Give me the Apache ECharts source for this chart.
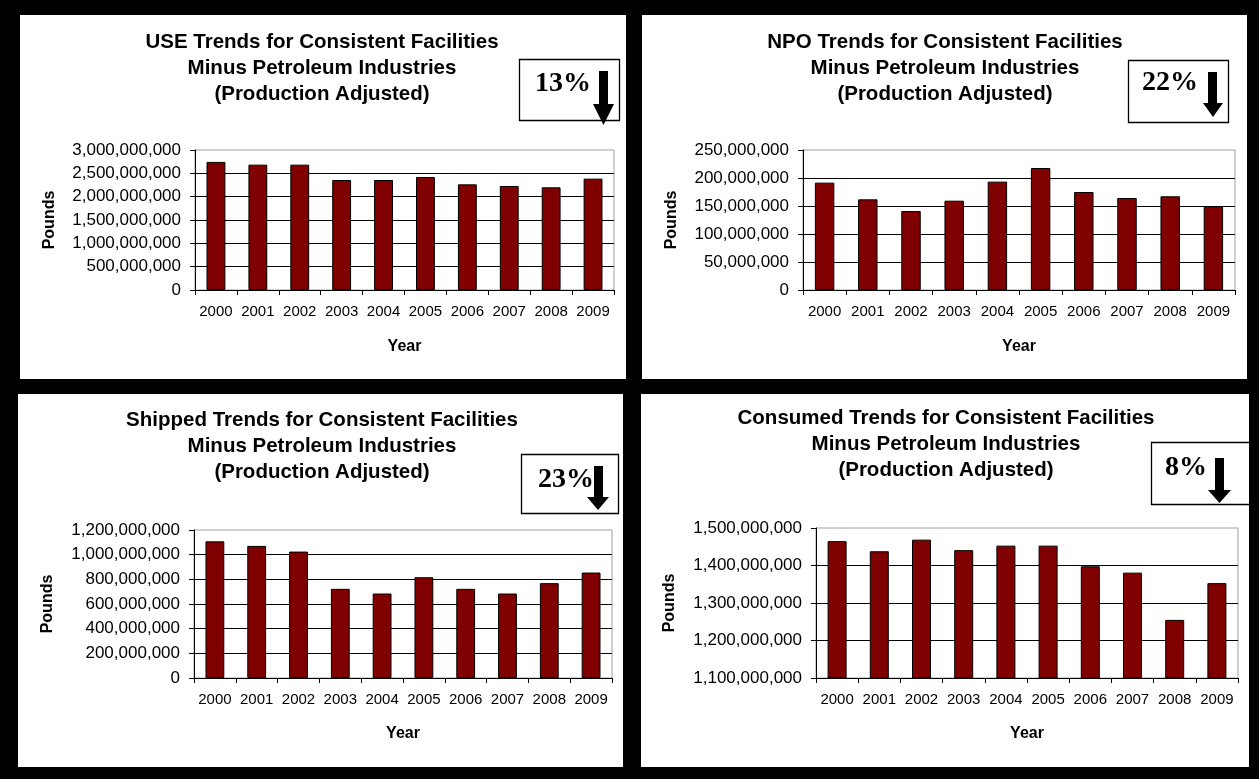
<!DOCTYPE html>
<html>
<head>
<meta charset="utf-8">
<script src="https://cdn.jsdelivr.net/npm/echarts@6/dist/echarts.min.js"></script>
<style>
  html, body { margin: 0; padding: 0; background: #000; }
  #chart { width: 1259px; height: 779px; }
</style>
</head>
<body>
<div id="chart"></div>
<script>
// Reporting years shared by all four charts
const years = ['2000', '2001', '2002', '2003', '2004', '2005', '2006', '2007', '2008', '2009'];

// Pounds per year, production adjusted
const useValues      = [2745e6, 2686e6, 2686e6, 2357e6, 2357e6, 2421e6, 2264e6, 2229e6, 2200e6, 2386e6];
const npoValues      = [191.7e6, 161.9e6, 141e6, 159.5e6, 193.5e6, 217.9e6, 175e6, 164.3e6, 167.3e6, 148.8e6];
const shippedValues  = [1108e6, 1071e6, 1025e6, 723e6, 685e6, 817e6, 723e6, 685e6, 769e6, 855e6];
const consumedValues = [1465e6, 1438e6, 1469e6, 1441e6, 1453e6, 1453e6, 1398e6, 1381e6, 1255e6, 1353e6];

// Chart titles
const chartTitles = [
  'USE Trends for Consistent Facilities\nMinus Petroleum Industries\n(Production Adjusted)',
  'NPO Trends for Consistent Facilities\nMinus Petroleum Industries\n(Production Adjusted)',
  'Shipped Trends for Consistent Facilities\nMinus Petroleum Industries\n(Production Adjusted)',
  'Consumed Trends for Consistent Facilities\nMinus Petroleum Industries\n(Production Adjusted)'
];

// Overall decrease 2000 -> 2009
const changeLabels = ['13%', '22%', '23%', '8%'];

// Value axis ranges: [min, max, interval]
const axisRanges = [
  [0, 3000000000, 500000000],
  [0, 250000000, 50000000],
  [0, 1200000000, 200000000],
  [1100000000, 1500000000, 100000000]
];

const seriesValues = [useValues, npoValues, shippedValues, consumedValues];

// Layout of the four quadrants
const layout = [
  { panel: [20, 15, 606, 364],  grid: [195, 150, 419, 140], titleX: 322, titleY: 29,  poundsGap: 137, yearGap: 49,
    box: [519, 59, 100, 61],  textX: 535,  textY: 83.5, arrow: { x0: 599, x1: 608, top: 71, hx0: 593, hx1: 614, head: 104, tip: 125 } },
  { panel: [642, 15, 605, 364], grid: [803, 150, 432, 140], titleX: 945, titleY: 29,  poundsGap: 123, yearGap: 49,
    box: [1128, 60, 100, 62], textX: 1142, textY: 82.5, arrow: { x0: 1208, x1: 1217, top: 72, hx0: 1203, hx1: 1223, head: 103, tip: 117 } },
  { panel: [18, 394, 605, 373], grid: [194, 530, 418, 148], titleX: 322, titleY: 407, poundsGap: 138, yearGap: 48,
    box: [521, 454, 97, 59],  textX: 538,  textY: 479.5, arrow: { x0: 594, x1: 603, top: 466, hx0: 587, hx1: 609, head: 497, tip: 510 } },
  { panel: [641, 394, 608, 373], grid: [816, 528, 422, 150], titleX: 946, titleY: 405, poundsGap: 138, yearGap: 48,
    box: [1151, 442, 105, 62], textX: 1165, textY: 467.5, arrow: { x0: 1215, x1: 1224, top: 458, hx0: 1208, hx1: 1231, head: 490, tip: 503 } }
];

const SANS = '"Liberation Sans", Arial, sans-serif';
const SERIF = '"Liberation Serif", "Times New Roman", serif';

function withCommas(v) {
  return String(Math.round(v)).replace(/\B(?=(\d{3})+(?!\d))/g, ',');
}

const grids = [], xAxes = [], yAxes = [], series = [], graphics = [];

layout.forEach((L, i) => {
  const [min, max, step] = axisRanges[i];

  grids.push({
    left: L.grid[0], top: L.grid[1], width: L.grid[2], height: L.grid[3],
    show: true, borderColor: '#a0a0a0', borderWidth: 1, backgroundColor: 'transparent'
  });

  xAxes.push({
    gridIndex: i, type: 'category', data: years,
    axisLine: { show: true, lineStyle: { color: '#000', width: 1 } },
    axisTick: { show: true, length: 5, lineStyle: { color: '#000' } },
    axisLabel: { interval: 0, color: '#000', fontFamily: SANS, fontSize: 15, margin: 14 },
    splitLine: { show: false },
    name: 'Year', nameLocation: 'middle', nameGap: L.yearGap,
    nameTextStyle: { color: '#000', fontFamily: SANS, fontWeight: 'bold', fontSize: 16 }
  });

  yAxes.push({
    gridIndex: i, type: 'value', min: min, max: max, interval: step,
    axisLine: { show: true, lineStyle: { color: '#000', width: 1 } },
    axisTick: { show: true, length: 5, lineStyle: { color: '#000' } },
    axisLabel: { color: '#000', fontFamily: SANS, fontSize: 17, margin: 14, formatter: withCommas },
    splitLine: { show: true, showMaxLine: false, lineStyle: { color: '#000', width: 1 } },
    name: 'Pounds', nameLocation: 'middle', nameGap: L.poundsGap, nameRotate: 90,
    nameTextStyle: { color: '#000', fontFamily: SANS, fontWeight: 'bold', fontSize: 16 }
  });

  series.push({
    type: 'bar', xAxisIndex: i, yAxisIndex: i, data: seriesValues[i],
    barWidth: '45%',
    itemStyle: { color: '#800000', borderColor: '#000', borderWidth: 1 },
    silent: true, animation: false
  });

  // white quadrant
  graphics.push({
    type: 'rect', z: -10, silent: true,
    shape: { x: L.panel[0], y: L.panel[1], width: L.panel[2], height: L.panel[3] },
    style: { fill: '#fff' }
  });

  // three-line title
  graphics.push({
    type: 'text', z: 10, silent: true,
    style: {
      text: chartTitles[i], x: L.titleX, y: L.titleY,
      align: 'center', verticalAlign: 'top',
      font: 'bold 20.5px ' + SANS, lineHeight: 26, fill: '#000'
    }
  });

  // change callout box
  graphics.push({
    type: 'rect', z: 10, silent: true,
    shape: { x: L.box[0] + 0.5, y: L.box[1] + 0.5, width: L.box[2], height: L.box[3] },
    style: { fill: '#fff', stroke: '#000', lineWidth: 1.3 }
  });
  graphics.push({
    type: 'text', z: 11, silent: true,
    style: {
      text: changeLabels[i], x: L.textX, y: L.textY,
      align: 'left', verticalAlign: 'middle',
      font: 'bold 28px ' + SERIF, fill: '#000'
    }
  });
  const a = L.arrow;
  const mid = (a.hx0 + a.hx1) / 2;
  graphics.push({
    type: 'polygon', z: 11, silent: true,
    shape: {
      points: [
        [a.x0, a.top], [a.x1, a.top], [a.x1, a.head], [a.hx1, a.head],
        [mid, a.tip], [a.hx0, a.head], [a.x0, a.head]
      ]
    },
    style: { fill: '#000' }
  });
});

// frame edge over the last callout box
graphics.push({
  type: 'rect', z: 20, silent: true,
  shape: { x: 1249, y: 380, width: 10, height: 399 },
  style: { fill: '#000' }
});

const chart = echarts.init(document.getElementById('chart'), null, { renderer: 'canvas' });
chart.setOption({
  backgroundColor: '#000',
  animation: false,
  grid: grids,
  xAxis: xAxes,
  yAxis: yAxes,
  series: series,
  graphic: { elements: graphics }
});
</script>
</body>
</html>
